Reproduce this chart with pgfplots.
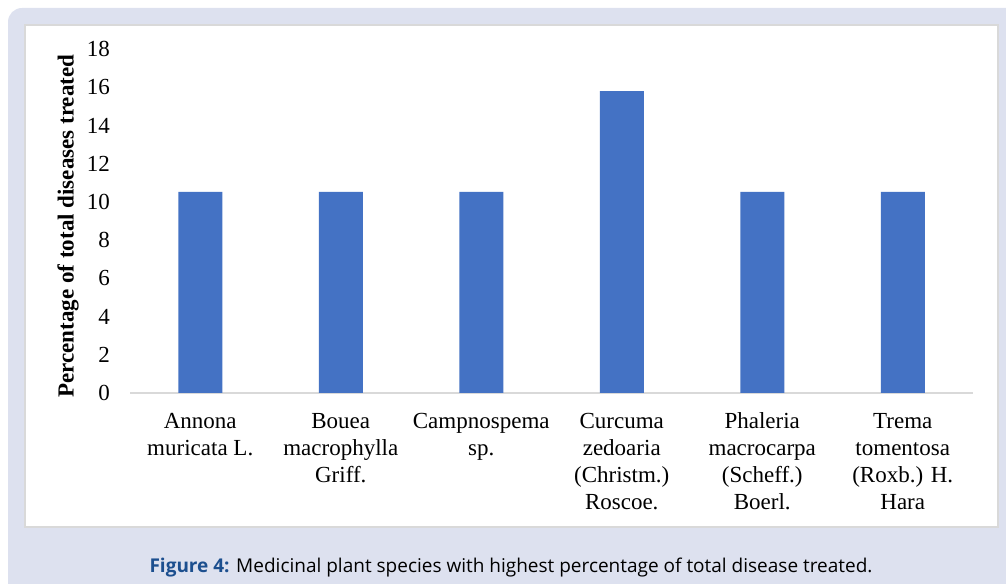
\documentclass[border=0pt]{standalone}
\usepackage{fontspec}
\setmainfont{Liberation Serif}
\newfontfamily\capfont{Open Sans}
\usepackage{pgfplots}
\pgfplotsset{compat=1.18}
\definecolor{bg}{HTML}{DDE1EF}
\definecolor{barblue}{HTML}{4472C4}
\definecolor{capblue}{HTML}{1C4F8F}
\definecolor{axgray}{HTML}{D9D9D9}
\begin{document}
\begin{tikzpicture}
\useasboundingbox (0bp,0bp) rectangle (1006bp,584bp);
\begin{scope}
\clip (0bp,0bp) rectangle (1006bp,584bp);
\fill[bg, rounded corners=14bp] (8bp,-40bp) rectangle (1050bp,576bp);
\end{scope}
\draw[fill=white, draw=axgray, line width=1.5bp] (25bp,57bp) rectangle (998bp,559bp);
\begin{axis}[
  at={(130bp,191bp)}, anchor=south west,
  scale only axis, width=843bp, height=344bp,
  xmin=-0.5, xmax=5.5, ymin=0, ymax=18,
  ytick={0,2,...,18}, xtick={0,...,5},
  xticklabels={{\strut Annona\\muricata L.},{\strut Bouea\\macrophylla\\Griff.},{\strut Campnospema\\sp.},{\strut Curcuma\\zedoaria\\(Christm.)\\Roscoe.},{\strut Phaleria\\macrocarpa\\(Scheff.)\\Boerl.},{\strut Trema\\tomentosa\\(Roxb.) H.\\Hara}},
  axis x line*=bottom, axis y line*=left,
  x axis line style={-, draw=axgray, line width=1.5bp},
  y axis line style={draw=none},
  major tick length=0pt, tick style={draw=none},
  xticklabel style={font=\fontsize{23bp}{27bp}\selectfont, align=center, anchor=north, inner sep=0pt, yshift=-16.5bp},
  yticklabel style={font=\fontsize{23bp}{27bp}\selectfont, anchor=east, inner sep=0pt, xshift=-20bp},
  /pgf/number format/assume math mode=true,
  ylabel={Percentage of total diseases treated},
  ylabel style={font=\bfseries\fontsize{23bp}{27bp}\selectfont, at={(axis description cs:-0.0735,0.485)}, anchor=center, rotate=0},
  ybar, bar width=44bp,
]
\addplot[fill=barblue, draw=none] coordinates {(0,10.53) (1,10.53) (2,10.53) (3,15.79) (4,10.53) (5,10.53)};
\end{axis}
\node[anchor=base] at (511bp,12bp) {\capfont\fontsize{19bp}{23bp}\selectfont\textcolor{capblue}{\bfseries Figure 4:} Medicinal plant species with highest percentage of total disease treated.};
\end{tikzpicture}
\end{document}
